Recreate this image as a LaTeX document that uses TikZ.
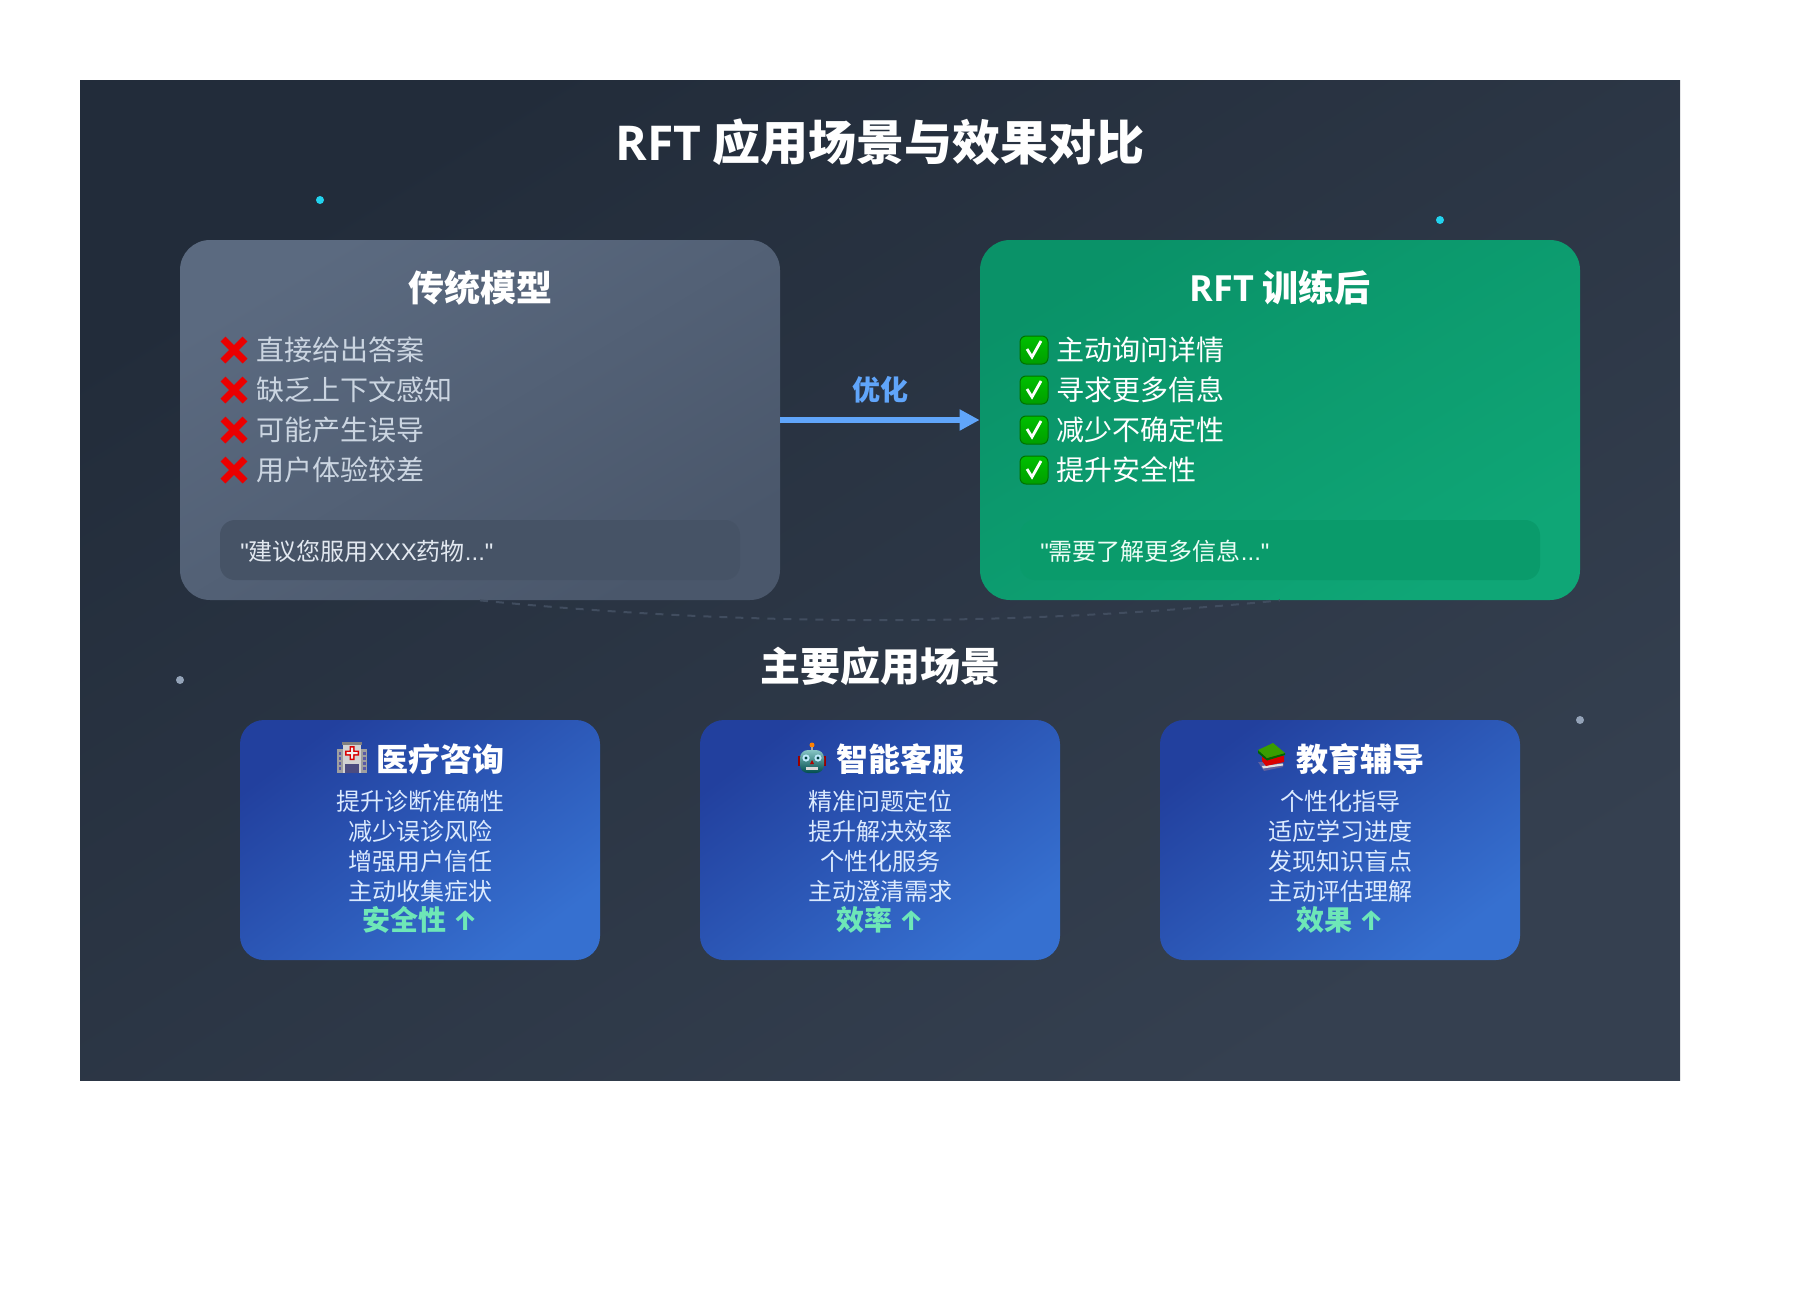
\documentclass[tikz,border=0pt]{standalone}
\usepackage{fontspec}
\setmainfont[Ligatures=TeXOff]{Noto Sans CJK SC}
\newfontfamily\titlelatin{Open Sans}
\newfontfamily\quotelatin[Ligatures=TeXOff]{Liberation Sans}
\newfontfamily\arrowfont{Fira Sans}
\usepackage{tikz}
\usetikzlibrary{matrix,arrows.meta}

\definecolor{panelA}{HTML}{222C3A}
\definecolor{panelB}{HTML}{354050}
\definecolor{oldA}{HTML}{5B6A80}
\definecolor{oldB}{HTML}{4A576B}
\definecolor{oldquote}{HTML}{465366}
\definecolor{oldtext}{HTML}{CBD5E1}
\definecolor{oldsaytext}{HTML}{E2E8F0}
\definecolor{newA}{HTML}{0A9268}
\definecolor{newB}{HTML}{0FA676}
\definecolor{newquote}{HTML}{0A9B6B}
\definecolor{newsaytext}{HTML}{ECFDF5}
\definecolor{sceneA}{HTML}{22409E}
\definecolor{sceneB}{HTML}{3670D0}
\definecolor{scenetext}{HTML}{DBEAFE}
\definecolor{arrowblue}{HTML}{60A5FA}
\definecolor{gainmint}{HTML}{6EE7B7}
\definecolor{dotcyan}{HTML}{22D3EE}
\definecolor{dotgrey}{HTML}{94A3B8}
\definecolor{dashgrey}{HTML}{414D5F}

\tikzset{
  heading/.style={text=white, font=\bfseries\fontsize{#1}{#1}\selectfont, inner sep=0},
  oldcard/.style={shade, top color=oldA, bottom color=oldB, shading angle=31, rounded corners=15pt, minimum width=300pt, minimum height=180pt},
  newcard/.style={shade, top color=newA, bottom color=newB, shading angle=31, rounded corners=15pt, minimum width=300pt, minimum height=180pt},
  scenecard/.style={shade, top color=sceneA, bottom color=sceneB, shading angle=37, rounded corners=12pt, minimum width=180pt, minimum height=120pt, inner sep=0},
  quotebox/.style={fill=#1, rounded corners=7.5pt, minimum width=260pt, minimum height=30pt},
  quotetext/.style={text=#1, font=\fontsize{12}{12}\selectfont, anchor=west, inner sep=0},
  itemlist/.style={matrix of nodes, anchor=north west, inner sep=0, row sep=0pt,
    nodes={text=#1, font=\fontsize{14}{14}\selectfont, anchor=west, inner sep=0, minimum height=20pt}},
  sceneitems/.style={text=scenetext, align=center, font=\fontsize{12}{15}\selectfont, inner sep=0},
  gain/.style={text=gainmint, font=\bfseries\fontsize{14}{14}\selectfont, inner sep=0},
  dot/.style={circle, fill=#1, minimum size=4pt, inner sep=0},
  crossmark/.pic={
    \draw[red!92!black, line width=3.4pt] (-11,-11) -- (11,11) (-11,11) -- (11,-11);
  },
  checkmark/.pic={
    \path[draw=green!45!black, top color=green!75!black, bottom color=green!62!black, line width=0.5pt, rounded corners=3pt] (-14,-14) rectangle (14,14);
    \draw[white, line width=1.4pt] (-7,-1) -- (-2,7) -- (7,-9);
  },
  hospitalicon/.pic={
    \fill[gray!75] (-15,-9) rectangle (15,15);
    \fill[gray!35] (-9,-15) rectangle (9,15);
    \fill[gray] (-10,-16) rectangle (10,-13);
    \foreach \wy in {-6,-1,4,9} {
      \fill[blue!30!gray] (-13.5,\wy) rectangle (-11,\wy+3);
      \fill[blue!30!gray] (11,\wy) rectangle (13.5,\wy+3);
    }
    \fill[blue!25!gray!80!black] (-7,6) rectangle (7,15);
    \fill[red!85!black] (-2.5,-12) rectangle (2.5,2) (-7,-7.5) rectangle (7,-2.5);
    \fill[gray!10] (-1,-10.5) rectangle (1,0.5) (-5.5,-6) rectangle (5.5,-4);
  },
  roboticon/.pic={
    \fill[red!60!black] (-14,-3) rectangle (14,7);
    \fill[orange] (0,-14) circle (2.5);
    \fill[gray!70] (-1,-12) rectangle (1,-9);
    \shade[top color=cyan!35!gray!70!white, bottom color=teal!60!black, rounded corners=4pt] (-12,-9) rectangle (12,14);
    \fill[cyan!25] (-6,-1) circle (3.6) (6,-1) circle (3.6);
    \fill[teal!50!black] (-6,-1) circle (1.6) (6,-1) circle (1.6);
    \fill[red!70!black] (-2,5) -- (2,5) -- (0,1) -- cycle;
    \fill[gray!30] (-6,8) rectangle (6,11);
  },
  booksicon/.pic={
    \fill[blue!25!gray] (-13,5) -- (-7,14) -- (12,10) -- (12,6) -- cycle;
    \fill[gray!25] (-9,9) -- (12,6.5) -- (12,8.5) -- (-8,11.5) -- cycle;
    \fill[red!85!black] (-9,-3) -- (-9,4) -- (-5,9) -- (13,5) -- (13,-1) -- cycle;
    \fill[green!40!black] (-13,-7) -- (-4,1) -- (14,-4) -- (14,-2) -- (-4,3.5) -- (-13,-4) -- cycle;
    \fill[green!45!black!70!lime] (-13,-7) -- (2,-14) -- (14,-4) -- (-4,1) -- cycle;
  },
}

\begin{document}
\begin{tikzpicture}[x=0.5pt, y=-0.5pt]
  \useasboundingbox (0,0) rectangle (1800,1306);
  \node (panel) [shade, top color=panelA, bottom color=panelB, shading angle=32, minimum width=800pt, minimum height=500pt, inner sep=0] at (880,580) {};
  \node (maintitle) [heading=24] at (880,142) {{\titlelatin RFT} 应用场景与效果对比};
  \node (dota) [dot=dotcyan] at (320,200) {};
  \node (dotb) [dot=dotcyan] at (1440,220) {};
  \node (dotc) [dot=dotgrey] at (180,680) {};
  \node (dotd) [dot=dotgrey] at (1580,720) {};

  \node (oldcard) [oldcard] at (480,420) {};
  \node (newcard) [newcard] at (1280,420) {};
  \path[draw=dashgrey, line width=1pt, dash pattern=on 4pt off 4pt]
    (oldcard.south) .. controls (746.7,626.7) and (1013.3,626.7) .. (newcard.south);
  \path[draw=arrowblue, line width=3pt, -{Triangle[length=10pt,width=10pt]}]
    (oldcard.east) -- (newcard.west);
  \node (optlabel) [text=arrowblue, font=\bfseries\fontsize{14}{14}\selectfont, inner sep=0] at (880,390) {优化};

  \node (oldtitle) [heading=18] at (480,288) {传统模型};
  \matrix (oldlist) [itemlist=oldtext] at (256,329.5)
  {
直接给出答案 \\
缺乏上下文感知 \\
可能产生误导 \\
用户体验较差 \\
  };
  \pic at (234,350) {crossmark};
  \pic at (234,390) {crossmark};
  \pic at (234,430) {crossmark};
  \pic at (234,470) {crossmark};
  \node (oldquote) [quotebox=oldquote] at (480,550) {};
  \node (oldsay) [quotetext=oldsaytext] at (240,551) {{\quotelatin "}建议您服用{\quotelatin XXX}药物{\quotelatin ..."}};

  \node (newtitle) [heading=18] at (1280,288) {{\titlelatin RFT} 训练后};
  \matrix (newlist) [itemlist=white] at (1056,329.5)
  {
主动询问详情 \\
寻求更多信息 \\
减少不确定性 \\
提升安全性 \\
  };
  \pic at (1034,350) {checkmark};
  \pic at (1034,390) {checkmark};
  \pic at (1034,430) {checkmark};
  \pic at (1034,470) {checkmark};
  \node (newquote) [quotebox=newquote] at (1280,550) {};
  \node (newsay) [quotetext=newsaytext] at (1040,551) {{\quotelatin "}需要了解更多信息{\quotelatin ..."}};

  \node (scenetitle) [heading=20] at (880,666) {主要应用场景};

  \node (medcard) [scenecard] at (420,840) {};
  \pic at (352,758) {hospitalicon};
  \node (medtitle) [heading=16] at (440,759) {医疗咨询};
  \node (meditems) [sceneitems] at (420,846.5) {提升诊断准确性\\减少误诊风险\\增强用户信任\\主动收集症状};
  \node (medgain) [gain] at (420,920) {安全性 {\arrowfont ↑}};

  \node (botcard) [scenecard] at (880,840) {};
  \pic at (812,759) {roboticon};
  \node (bottitle) [heading=16] at (900,759) {智能客服};
  \node (botitems) [sceneitems] at (880,846.5) {精准问题定位\\提升解决效率\\个性化服务\\主动澄清需求};
  \node (botgain) [gain] at (880,920) {效率 {\arrowfont ↑}};

  \node (educard) [scenecard] at (1340,840) {};
  \pic at (1271,757) {booksicon};
  \node (edutitle) [heading=16] at (1360,759) {教育辅导};
  \node (eduitems) [sceneitems] at (1340,846.5) {个性化指导\\适应学习进度\\发现知识盲点\\主动评估理解};
  \node (edugain) [gain] at (1340,920) {效果 {\arrowfont ↑}};
\end{tikzpicture}
\end{document}
